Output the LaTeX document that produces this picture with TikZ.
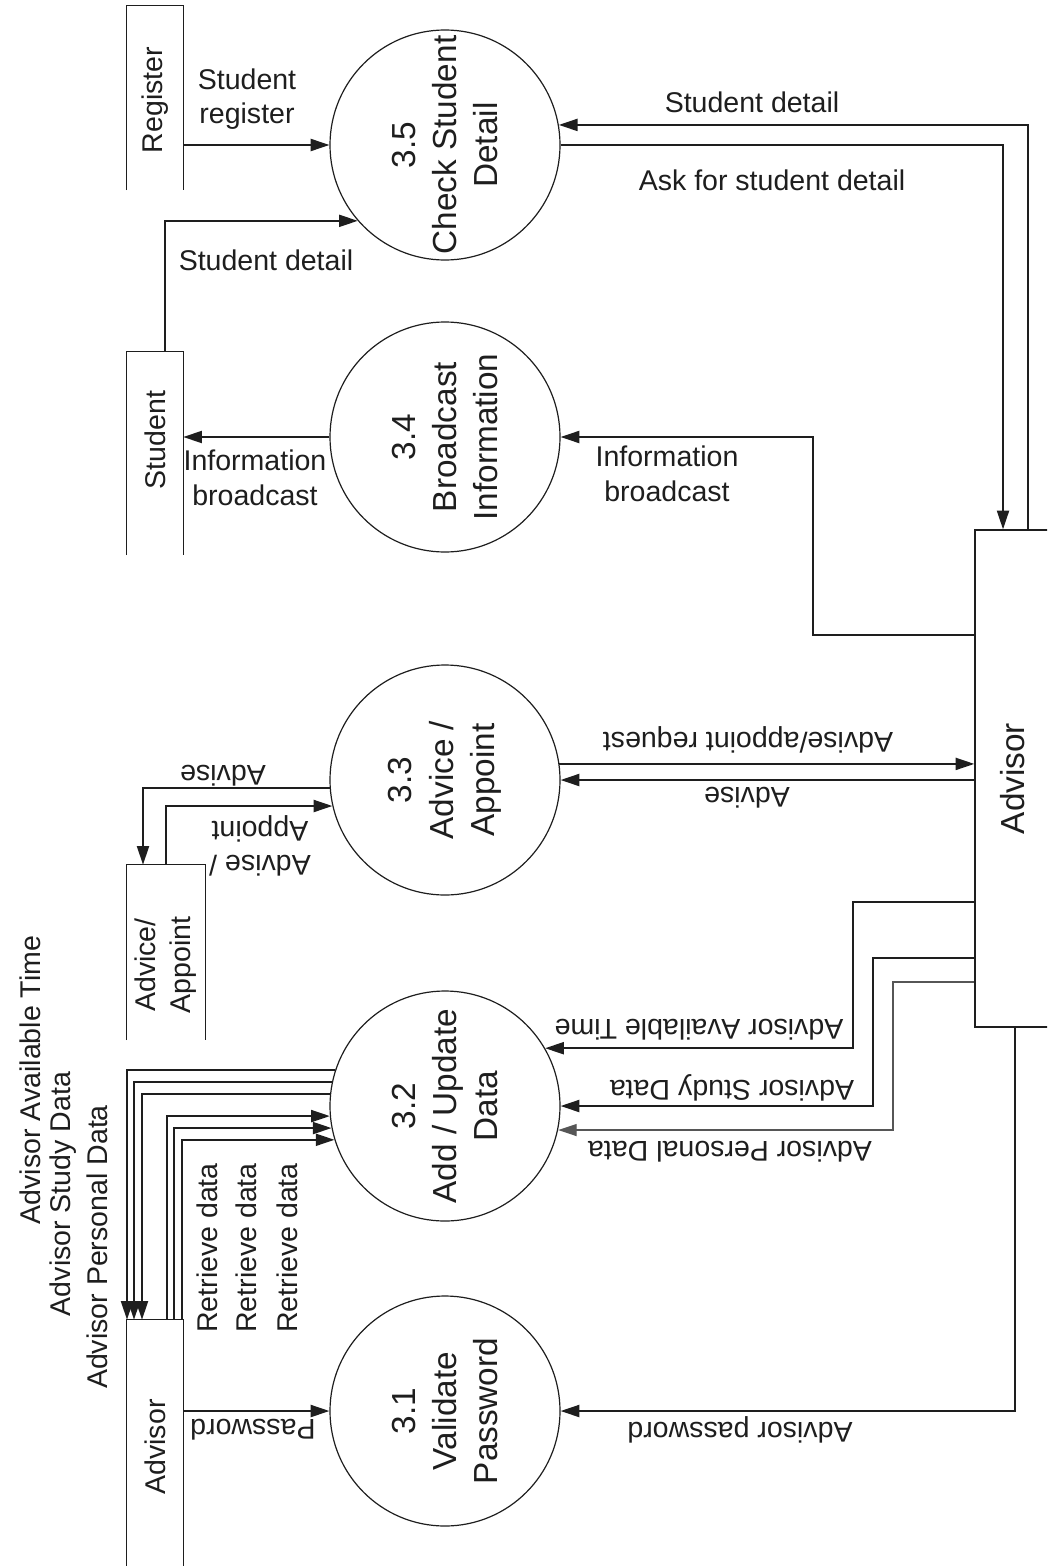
\documentclass[tikz,border=0pt]{standalone}
\usepackage{fontspec}
\setmainfont{Liberation Sans}
\usepackage{graphicx}
\usetikzlibrary{arrows.meta,calc}
\definecolor{ink}{RGB}{30,30,30}
\newcommand\flowfnt{\fontsize{21.4}{26}\selectfont}
\newcommand\procfnt{\fontsize{25}{31}\selectfont}
\begin{document}
\begin{tikzpicture}[x=0.75pt,y=-0.75pt,
 proc/.style={circle,draw=ink,line width=0.9pt,minimum size=172.5pt,inner sep=0pt},
 ptext/.style={rotate=90,align=center,font=\procfnt,text=ink,inner sep=0pt},
 store/.style={rectangle,inner sep=0pt,font=\flowfnt,text=ink},
 sline/.style={draw=ink,line width=1pt},
 flow/.style={draw=ink,line width=1.5pt,-{Triangle[length=14pt,width=9pt]}},
 lab/.style={align=center,font=\flowfnt,text=ink,inner sep=0pt},
 up/.style={lab,rotate=180},
 vert/.style={lab,rotate=90}]
\useasboundingbox (0,0) rectangle (1047,1566);
\fill[white] (0,0) rectangle (1047,1566);
\clip (0,0) rectangle (1047,1566);

% processes
\node[proc] (c35) at (445,145) {};
\node[proc] (c34) at (445,437) {};
\node[proc] (c33) at (445,780) {};
\node[proc] (c32) at (445,1106) {};
\node[proc] (c31) at (445,1411) {};
\node[ptext] (t35) at (c35) {3.5\\Check Student\\Detail};
\node[ptext] (t34) at (c34) {3.4\\Broadcast\\Information};
\node[ptext] (t33) at (c33) {3.3\\Advice /\\Appoint};
\node[ptext] (t32) at (c32) {3.2\\Add / Update\\Data};
\node[ptext] (t31) at (c31) {3.1\\Validate\\Password};

% data stores
\node[store,minimum width=42pt,minimum height=141pt] (reg) at (155,100) {\rotatebox{90}{Register}};
\node[store,minimum width=42pt,minimum height=132pt] (stu) at (155,440) {\rotatebox{90}{Student}};
\node[store,minimum width=58.5pt,minimum height=150pt] (aps) at (166,965) {\rotatebox{90}{\begin{tabular}{@{}c@{}}Advice/\\Appoint\end{tabular}}};
\node[store,minimum width=42pt,minimum height=190.5pt] (ads) at (155,1447) {\rotatebox{90}{Advisor}};
\draw[sline] (reg.west |- 0,190) -- (reg.north west) -- (reg.north east) -- (reg.east |- 0,190);
\draw[sline] (stu.west |- 0,555) -- (stu.north west) -- (stu.north east) -- (stu.east |- 0,555);
\draw[sline] (aps.west |- 0,1040) -- (aps.north west) -- (aps.north east) -- (aps.east |- 0,1040);
\draw[sline] (ads.south west) -- (ads.north west) -- (ads.north east) -- (ads.south east);

% external entity
\node[draw=ink,line width=1pt,minimum width=56.25pt,minimum height=372.75pt,inner sep=0pt,font=\procfnt,text=ink] (adv) at (1012.5,778.5) {\rotatebox{90}{Advisor}};

% flows 3.5
\draw[flow] (reg.east |- c35.west) -- (c35.west);
\draw[flow] (165,0 |- stu.north) |- (c35.221);
\draw[flow] (1028,0 |- adv.north) |- (c35.10);
\draw[flow] (c35.east) -| (1003,0 |- adv.north);
% flows 3.4
\draw[flow] (c34.west) -- (c34.west -| stu.east);
\draw[flow] (adv.west |- 0,635) -| (813,0 |- c34.east) -- (c34.east);
% flows 3.3
\draw[flow] (c33.184) -| (143,0 |- aps.north);
\draw[flow] (aps.north) |- (c33.193);
\draw[flow] (c33.8) -- (c33.8 -| adv.west);
\draw[flow] (adv.west |- c33.east) -- (c33.east);
% flows 3.2
\draw[flow] (adv.west |- 0,902) -| (853,0 |- c32.30) -- (c32.30);
\draw[flow] (adv.west |- 0,958) -| (873,0 |- c32.east) -- (c32.east);
\draw[flow,draw=ink!75,line width=1.1pt] (adv.west |- 0,982) -| (893,0 |- c32.348) -- (c32.348);
\draw[flow] (c32.162) -| (127,0 |- ads.north);
\draw[flow] (c32.168) -| (134,0 |- ads.north);
\draw[flow] (c32.174) -| (142,0 |- ads.north);
\draw[flow] (167,0 |- ads.north) |- (c32.185);
\draw[flow] (174,0 |- ads.north) |- (c32.191);
\draw[flow] (182,0 |- ads.north) |- (c32.197);
% flows 3.1
\draw[flow] (ads.east |- c31.west) -- (c31.west);
\draw[flow] (1015,0 |- adv.south) |- (c31.east);

% labels
\node[lab] (l1) at (247,99) {Student\\register};
\node[lab] (l2) at (752,102) {Student detail};
\node[lab] (l3) at (772,180) {Ask for student detail};
\node[lab] (l4) at (266,260) {Student detail};
\node[lab] (l5) at (255,478) {Information\\broadcast};
\node[lab] (l6) at (667,474) {Information\\broadcast};
\node[up] (l7) at (223,776) {Advise};
\node[up] (l8) at (260,846) {Advise /\\Appoint};
\node[up] (l9) at (748,740) {Advise/appoint request};
\node[up] (l10) at (747,798) {Advise};
\node[up] (l11) at (699,1030) {Advisor Available Time};
\node[up] (l12) at (732,1088) {Advisor Study Data};
\node[up] (l13) at (730,1152) {Advisor Personal Data};
\node[up] (l14) at (253,1430) {Password};
\node[up] (l15) at (740,1430) {Advisor password};
\node[vert] (l16) at (30,1080) {Advisor Available Time};
\node[vert] (l17) at (63,1194) {Advisor Study Data};
\node[vert] (l18) at (97,1247) {Advisor Personal Data};
\node[vert] (l19) at (207,1248) {Retrieve data};
\node[vert] (l20) at (246,1248) {Retrieve data};
\node[vert] (l21) at (287,1248) {Retrieve data};
\end{tikzpicture}
\end{document}
